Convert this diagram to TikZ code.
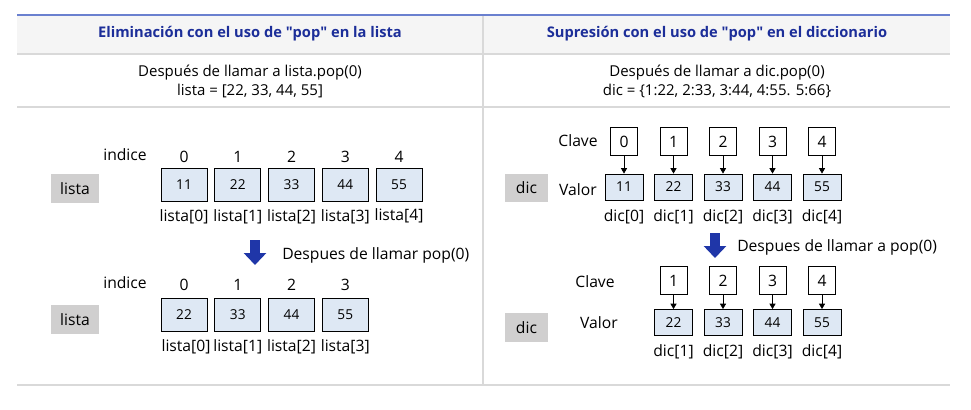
\documentclass[tikz,border=0pt]{standalone}
\usepackage{fontspec}
\setmainfont{Open Sans}
\usetikzlibrary{arrows.meta}
\definecolor{titleblue}{HTML}{1C2E99}
\definecolor{arrowblue}{HTML}{1F36A8}
\definecolor{boxblue}{HTML}{DEE8F4}
\definecolor{namegray}{HTML}{D0CFCF}
\definecolor{headbg}{HTML}{F5F5F5}
\definecolor{gridgray}{HTML}{D9D9D9}
\definecolor{topblue}{HTML}{6A80CF}
\tikzset{
  txt/.style={inner sep=0pt,font=\fontsize{11.75}{13}\selectfont},
  valbox/.style={draw,fill=boxblue,inner sep=0pt,minimum width=34.5pt,minimum height=24.75pt,font=\fontsize{10.25}{12}\selectfont},
  dvalbox/.style={draw,fill=boxblue,inner sep=0pt,minimum width=28.5pt,minimum height=19.75pt,font=\fontsize{10.25}{12}\selectfont},
  keybox/.style={draw,fill=white,inner sep=0pt,minimum width=20.5pt,minimum height=21pt,font=\fontsize{11.75}{13}\selectfont},
  namebox/.style={fill=namegray,inner sep=0pt,font=\fontsize{11.75}{13}\selectfont},
  titletxt/.style={inner sep=0pt,text=titleblue,font=\fontsize{11}{12}\selectfont\bfseries},
  bigarrow/.style={arrowblue,line width=7pt,-{Triangle[length=9pt,width=16.5pt]}},
  keyarrow/.style={-{Triangle[length=4pt,width=4.5pt]},line width=0.5pt}
}
\begin{document}
\begin{tikzpicture}[x=0.75pt,y=-0.75pt]
\useasboundingbox (0,0) rectangle (971,410);
\fill[headbg] (17,15) rectangle (950,54);
\draw[gridgray,line width=0.9pt] (17,54) -- (950,54);
\draw[gridgray,line width=0.9pt] (17,107) -- (950,107);
\draw[gridgray,line width=0.9pt] (17,385) -- (950,385);
\draw[gridgray,line width=0.9pt] (483,15) -- (483,385);
\draw[topblue,line width=1.5pt] (17,15) -- (950,15);
\node[titletxt] (t1) at (250,34) {Eliminación con el uso de \textquotedbl pop\textquotedbl\ en la lista};
\node[titletxt] (t2) at (717,34) {Supresión con el uso de \textquotedbl pop\textquotedbl\ en el diccionario};
\node[txt,align=center,font=\fontsize{11.25}{14.25}\selectfont] (s1) at (250,81.5) {Después de llamar a lista.pop(0)\\lista = [22, 33, 44, 55]};
\node[txt,align=center,font=\fontsize{11.25}{14.25}\selectfont] (s2) at (717,81.5) {Después de llamar a dic.pop(0)\\dic = \{1:22, 2:33, 3:44, 4:55. 5:66\}};
% lista antes
\node[namebox,minimum width=36pt,minimum height=21.75pt] (la) at (75,188.5) {lista};
\node[txt] (ia) at (125,155) {indice};
\node[txt] (ia0) at (184,157) {0};
\node[txt] (ia1) at (237.75,157) {1};
\node[txt] (ia2) at (291.5,157) {2};
\node[txt] (ia3) at (345.25,157) {3};
\node[txt] (ia4) at (399,157) {4};
\node[valbox] (va0) at (184,185) {11};
\node[valbox] (va1) at (237.75,185) {22};
\node[valbox] (va2) at (291.5,185) {33};
\node[valbox] (va3) at (345.25,185) {44};
\node[valbox] (va4) at (399,185) {55};
\node[txt] (ea0) at (184,217) {lista[0]};
\node[txt] (ea1) at (237.75,217) {lista[1]};
\node[txt] (ea2) at (291.5,217) {lista[2]};
\node[txt] (ea3) at (345.25,217) {lista[3]};
\node[txt] (ea4) at (399,216) {lista[4]};
\coordinate (pa1) at (255,240);
\coordinate (pa2) at (255,265);
\draw[bigarrow] (pa1) -- (pa2);
\node[txt,anchor=west] (da) at (282,255) {Despues de llamar pop(0)};
% lista despues
\node[namebox,minimum width=36pt,minimum height=21.75pt] (lb) at (75,319.5) {lista};
\node[txt] (ib) at (125,283) {indice};
\node[txt] (ib0) at (184,285) {0};
\node[txt] (ib1) at (237.75,285) {1};
\node[txt] (ib2) at (291.5,285) {2};
\node[txt] (ib3) at (345.25,285) {3};
\node[valbox] (vb0) at (184,314.5) {22};
\node[valbox] (vb1) at (237.75,314.5) {33};
\node[valbox] (vb2) at (291.5,314.5) {44};
\node[valbox] (vb3) at (345.25,314.5) {55};
\node[txt] (eb0) at (186,347) {lista[0]};
\node[txt] (eb1) at (237.75,347) {lista[1]};
\node[txt] (eb2) at (291.5,347) {lista[2]};
\node[txt] (eb3) at (345.25,347) {lista[3]};
% dic antes
\node[namebox,minimum width=32.25pt,minimum height=21pt] (dc) at (526.5,188) {dic};
\node[txt] (kc) at (578,141) {Clave};
\node[txt] (wc) at (578,190) {Valor};
\node[keybox] (kc0) at (624,141.5) {0};
\node[keybox] (kc1) at (673.5,141.5) {1};
\node[keybox] (kc2) at (723,141.5) {2};
\node[keybox] (kc3) at (772.5,141.5) {3};
\node[keybox] (kc4) at (822,141.5) {4};
\node[dvalbox] (vc0) at (624,187) {11};
\node[dvalbox] (vc1) at (673.5,187) {22};
\node[dvalbox] (vc2) at (723,187) {33};
\node[dvalbox] (vc3) at (772.5,187) {44};
\node[dvalbox] (vc4) at (822,187) {55};
\draw[keyarrow] (kc0) -- (vc0);
\draw[keyarrow] (kc1) -- (vc1);
\draw[keyarrow] (kc2) -- (vc2);
\draw[keyarrow] (kc3) -- (vc3);
\draw[keyarrow] (kc4) -- (vc4);
\node[txt] (ec0) at (624,217) {dic[0]};
\node[txt] (ec1) at (673.5,217) {dic[1]};
\node[txt] (ec2) at (723,217) {dic[2]};
\node[txt] (ec3) at (772.5,217) {dic[3]};
\node[txt] (ec4) at (822,217) {dic[4]};
\coordinate (pc1) at (715,233);
\coordinate (pc2) at (715,258);
\draw[bigarrow] (pc1) -- (pc2);
\node[txt,anchor=west] (dd) at (737,247) {Despues de llamar a pop(0)};
% dic despues
\node[namebox,minimum width=32.25pt,minimum height=21.75pt] (dd2) at (526.5,327.5) {dic};
\node[txt] (kd) at (595,282) {Clave};
\node[txt] (wd) at (599,323) {Valor};
\node[keybox] (kd1) at (673.5,280.5) {1};
\node[keybox] (kd2) at (723,280.5) {2};
\node[keybox] (kd3) at (772.5,280.5) {3};
\node[keybox] (kd4) at (822,280.5) {4};
\node[dvalbox] (vd1) at (673.5,322.5) {22};
\node[dvalbox] (vd2) at (723,322.5) {33};
\node[dvalbox] (vd3) at (772.5,322.5) {44};
\node[dvalbox] (vd4) at (822,322.5) {55};
\draw[keyarrow] (kd1) -- (vd1);
\draw[keyarrow] (kd2) -- (vd2);
\draw[keyarrow] (kd3) -- (vd3);
\draw[keyarrow] (kd4) -- (vd4);
\node[txt] (ed1) at (673.5,352) {dic[1]};
\node[txt] (ed2) at (723,352) {dic[2]};
\node[txt] (ed3) at (772.5,352) {dic[3]};
\node[txt] (ed4) at (822,352) {dic[4]};
\end{tikzpicture}
\end{document}
